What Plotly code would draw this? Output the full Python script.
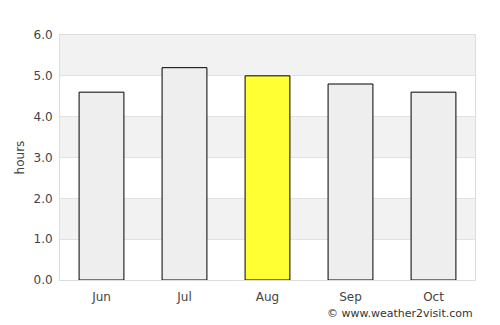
import plotly.graph_objects as go

months = ["Jun", "Jul", "Aug", "Sep", "Oct"]
hours = [4.6, 5.2, 5.0, 4.8, 4.6]
colors = ["#eeeeee", "#eeeeee", "#ffff33", "#eeeeee", "#eeeeee"]
y_ticks = [0, 1, 2, 3, 4, 5, 6]
y_labels = ["0.0", "1.0", "2.0", "3.0", "4.0", "5.0", "6.0"]
bands = [(1, 2), (3, 4), (5, 6)]

fig = go.Figure()
fig.add_trace(go.Bar(x=months, y=hours, marker=dict(color=colors, line=dict(color="#000000", width=1)),
                     hoverinfo="x+y"))

for y0, y1 in bands:
    fig.add_shape(type="rect", xref="paper", yref="y", x0=0, x1=1, y0=y0, y1=y1,
                  fillcolor="#f2f2f2", line=dict(width=0), layer="below")

fig.update_layout(
    width=500, height=325,
    margin=dict(l=60, r=25, t=35, b=45),
    plot_bgcolor="#ffffff", paper_bgcolor="#ffffff",
    bargap=0.46,
    showlegend=False,
    font=dict(family="DejaVu Sans", size=12, color="#444444"),
    xaxis=dict(showgrid=False, ticks="", showline=True, linecolor="#dddddd", mirror=True,
               tickfont=dict(size=12), ticklabelstandoff=6),
    yaxis=dict(range=[0, 6], tickvals=y_ticks, ticktext=y_labels, showgrid=True,
               gridcolor="#e2e2e2", gridwidth=1, zeroline=False, showline=True,
               linecolor="#dddddd", mirror=True, ticks="", ticklen=0,
               ticklabelstandoff=4,
               title=dict(text="hours", font=dict(size=12), standoff=6)),
    annotations=[dict(text="© www.weather2visit.com", xref="paper", yref="paper",
                      x=1.0, y=-0.135, xanchor="right", yanchor="middle", showarrow=False,
                      font=dict(size=11, color="#333333"))],
)

fig.write_html("out.html")
